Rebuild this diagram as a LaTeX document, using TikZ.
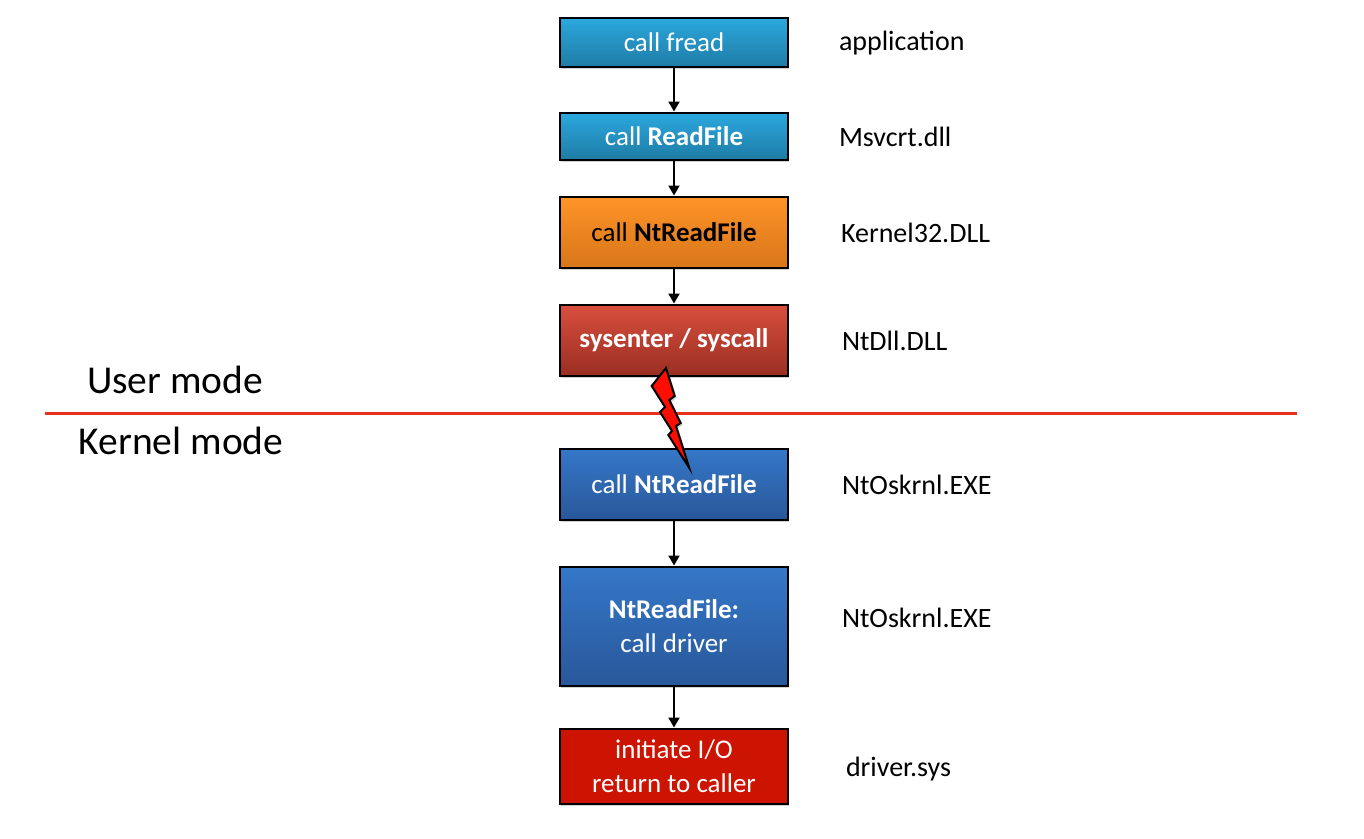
\documentclass[tikz,border=0pt]{standalone}
\usepackage{fontspec}
\setmainfont{Carlito}
\usetikzlibrary{arrows.meta, positioning, shadows}

\definecolor{skytop}{HTML}{2BA8DE}
\definecolor{skybot}{HTML}{1F7CA6}
\definecolor{orangetop}{HTML}{FF9428}
\definecolor{orangebot}{HTML}{D8761A}
\definecolor{bricktop}{HTML}{D94F3D}
\definecolor{brickbot}{HTML}{9A2E22}
\definecolor{bluetop}{HTML}{3577C8}
\definecolor{bluebot}{HTML}{28589A}
\definecolor{driverred}{HTML}{CC1400}
\definecolor{modeline}{HTML}{E8301C}

\tikzset{
  box/.style={draw=black, line width=2pt, minimum width=228pt, inner sep=0pt, align=center,
    text=white, font=\fontsize{27}{34}\selectfont,
    drop shadow={opacity=.35, shadow xshift=1pt, shadow yshift=-2.5pt}},
  sky/.style={box, top color=skytop, bottom color=skybot},
  amber/.style={box, top color=orangetop, bottom color=orangebot, text=black},
  brick/.style={box, top color=bricktop, bottom color=brickbot},
  blue/.style={box, top color=bluetop, bottom color=bluebot},
  lib/.style={font=\fontsize{28}{32}\selectfont, inner sep=0pt},
  mode/.style={font=\fontsize{39.5}{44}\selectfont, inner sep=0pt}
}

\begin{document}
\begin{tikzpicture}[x=1pt,y=1pt,>={Triangle[length=10pt,width=11pt]},line width=2pt,node distance=46pt]
\useasboundingbox (0,0) rectangle (1364,-838);

% define the mode line
  \coordinate (lineL) at (45,-413);
  \coordinate (lineR) at (1297,-413);
  \draw[modeline, line width=3pt] (lineL) -- (lineR);
  \node[mode] (user)   at (175,-380) {User mode};
  \node[mode] (kernel) at (181,-441) {Kernel mode};

% define the boxes
  \node[sky, minimum height=49pt] (fread) at (674,-42) {call fread};
  \node[sky, minimum height=47pt] (readfile) [below=44pt of fread] {call \textbf{ReadFile}};
  \node[amber, minimum height=71pt] (ntread) [below=35pt of readfile] {call \textbf{NtReadFile}};
  \node[brick, minimum height=71pt] (sysenter) [below=35pt of ntread] {\textbf{sysenter / syscall}};
  \node[blue, minimum height=71pt] (kernread) [below=71pt of sysenter] {call \textbf{NtReadFile}};
  \node[blue, minimum height=119pt] (calldrv) [below=45pt of kernread] {\textbf{NtReadFile:}\\call driver};
  \node[box, fill=driverred, minimum height=75pt] (driver) [below=41pt of calldrv] {initiate I/O\\return to caller};

% define the labels
  \node[lib] (application) [right=49pt of fread, yshift=-1pt] {application};
  \node[lib] (msvcrt) [right=49pt of readfile, yshift=-1pt] {Msvcrt.dll};
  \node[lib] (kernel32) [right=51pt of ntread, yshift=-1pt] {Kernel32.DLL};
  \node[lib] (ntdll) [right=52pt of sysenter, yshift=-1pt] {NtDll.DLL};
  \node[lib] (ntos1) [right=52pt of kernread, yshift=-1pt] {NtOskrnl.EXE};
  \node[lib] (ntos2) [right=52pt of calldrv, yshift=8pt] {NtOskrnl.EXE};
  \node[lib] (sys) [right=56pt of driver, yshift=-3pt] {driver.sys};

% define the links
  \path[->] (fread) edge (readfile);
  \path[->] (readfile) edge (ntread);
  \path[->] (ntread) edge (sysenter);
  \path[->] (kernread) edge (calldrv);
  \path[->] (calldrv) edge (driver);

% the trap
  \draw[fill=red!90!orange, line join=miter, drop shadow={opacity=.35, shadow xshift=2pt, shadow yshift=-2pt}]
    (666,-368) -- (674.7,-396) -- (669.3,-400) -- (680.7,-423) -- (676,-426) -- (689.3,-468)
    -- (668.3,-435) -- (672,-431) -- (660,-412) -- (665,-407) -- (651.7,-386) -- cycle;
\end{tikzpicture}
\end{document}
